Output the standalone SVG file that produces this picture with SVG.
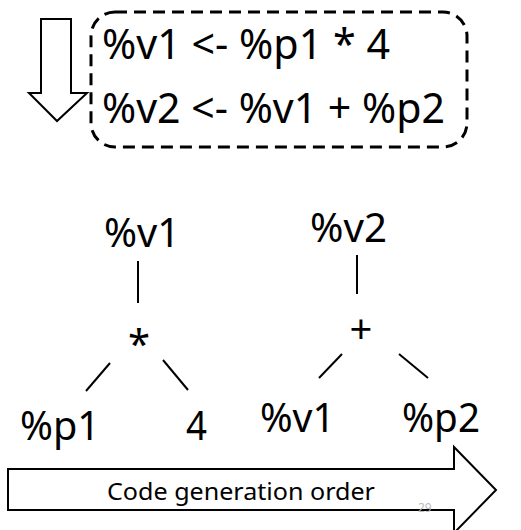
<svg xmlns="http://www.w3.org/2000/svg" width="521" height="530" viewBox="0 0 521 530">
<style>
text{font-family:"Noto Sans","Open Sans",sans-serif;fill:#000}
.big{font-size:41px}
.tree{font-size:40px}
.ln{stroke:#000;stroke-width:2;fill:none}
.arrow{stroke:#000;stroke-width:2;fill:#fff;stroke-linejoin:miter}
</style>
<rect width="521" height="530" fill="#fff"/>
<g id="order-down">
<polygon class="arrow" points="41,19 71,19 71,93 87,93 57,121 29,93 41,93"/>
</g>
<g id="code-box">
<rect x="91" y="12" width="376" height="135" rx="24" ry="24" fill="none" stroke="#000" stroke-width="3" stroke-dasharray="12 7"/>
<text class="big" x="102" y="59" textLength="288" lengthAdjust="spacingAndGlyphs">%v1 &lt;- %p1 * 4</text>
<text class="big" x="102" y="123" textLength="343" lengthAdjust="spacingAndGlyphs">%v2 &lt;- %v1 + %p2</text>
</g>
<g id="connectors">
<line class="ln" x1="138" y1="261" x2="138" y2="303"/>
<line class="ln" x1="110" y1="363" x2="86" y2="391"/>
<line class="ln" x1="163" y1="360" x2="188" y2="390"/>
<line class="ln" x1="357" y1="255" x2="357" y2="294"/>
<line class="ln" x1="342" y1="354" x2="319" y2="378"/>
<line class="ln" x1="399" y1="354" x2="428" y2="378"/>
</g>
<g id="n-v1"><text class="tree" x="104" y="247" textLength="76" lengthAdjust="spacingAndGlyphs">%v1</text></g>
<g id="n-mul"><text class="tree" x="139" y="358" text-anchor="middle">*</text></g>
<g id="n-p1"><text class="tree" x="20" y="440" textLength="80" lengthAdjust="spacingAndGlyphs">%p1</text></g>
<g id="n-4"><text class="tree" x="186" y="440" textLength="21" lengthAdjust="spacingAndGlyphs">4</text></g>
<g id="n-v2"><text class="tree" x="310" y="242" textLength="77" lengthAdjust="spacingAndGlyphs">%v2</text></g>
<g id="n-add"><text class="tree" x="361" y="343" text-anchor="middle">+</text></g>
<g id="n-v1b"><text class="tree" x="260" y="432" textLength="75" lengthAdjust="spacingAndGlyphs">%v1</text></g>
<g id="n-p2"><text class="tree" x="402" y="432" textLength="78" lengthAdjust="spacingAndGlyphs">%p2</text></g>
<g id="order-right">
<polygon class="arrow" points="8,469 454,469 454,447 496,490 454,533 454,510 8,510"/>
<text x="107" y="500" font-size="24" textLength="268" lengthAdjust="spacingAndGlyphs">Code generation order</text>
</g>
<text x="418" y="512" font-size="12" fill="#bbb" style="fill:#bbb">29</text>
</svg>
